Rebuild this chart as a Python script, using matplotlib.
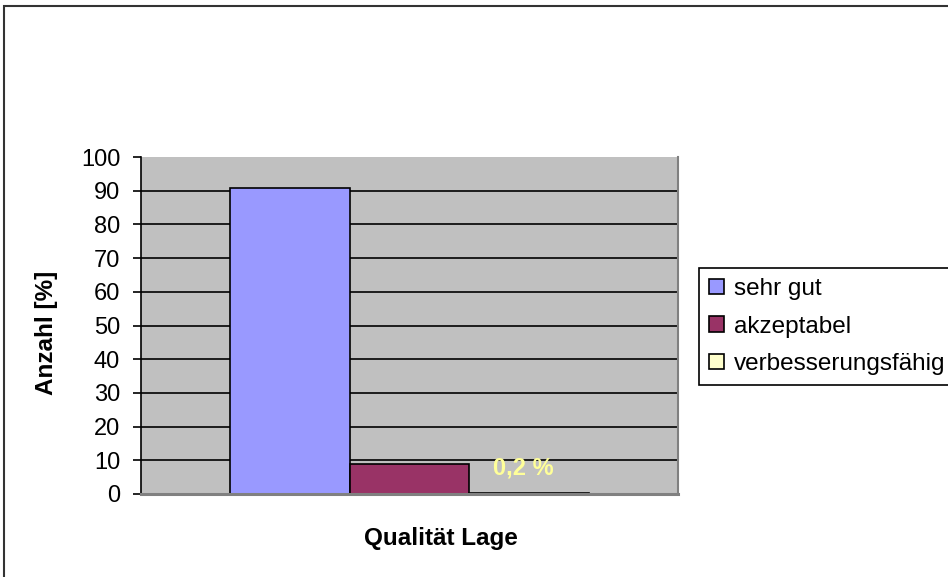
import matplotlib
matplotlib.use("Agg")
import matplotlib.pyplot as plt
from matplotlib.patches import Rectangle

plt.rcParams['font.family'] = ['Liberation Sans', 'DejaVu Sans']

categories = ["sehr gut", "akzeptabel", "verbesserungsfähig"]
values = [90.8, 9.0, 0.2]
colors = ["#9999FF", "#993366", "#FFFFCC"]
value_labels = [None, None, "0,2 %"]
yticks = [0, 10, 20, 30, 40, 50, 60, 70, 80, 90, 100]

fig = plt.figure(figsize=(9.48, 5.77), dpi=100)
ax = fig.add_axes([141/948, 1-494/577, 537/948, 337/577])
ax.set_facecolor("#C0C0C0")

positions = [-1, 0, 1]
for p, v, c, name in zip(positions, values, colors, categories):
    ax.bar(p, v, width=1.0, color=c, edgecolor="black", linewidth=1.2, label=name, zorder=2)

for p, v, lab in zip(positions, values, value_labels):
    if lab:
        ax.annotate(lab, (p, v), xytext=(-4, 18), textcoords="offset points",
                    ha="center", va="center", color="#FFFF99", fontsize=17,
                    fontweight="bold", zorder=4)

ax.set_xlim(-2.247, 2.247)
ax.set_ylim(0, 100)
ax.set_yticks(yticks)
ax.set_yticklabels([str(t) for t in yticks], fontsize=17)
ax.set_xticks([])
for t in yticks[1:-1]:
    ax.axhline(t, color="black", linewidth=1.2, zorder=1)
ax.tick_params(axis="y", direction="out", length=6, width=1.2, pad=9)
ax.spines["top"].set_visible(False)
ax.spines["left"].set_color("black")
ax.spines["left"].set_linewidth(1.2)
ax.spines["right"].set_color("#808080")
ax.spines["right"].set_linewidth(1.5)
ax.spines["bottom"].set_color("#808080")
ax.spines["bottom"].set_linewidth(2.2)
for s in ax.spines.values():
    s.set_zorder(3)

ax.set_ylabel("Anzahl [%]", fontsize=17.5, fontweight="bold", va="center")
ax.yaxis.set_label_coords((47-141)/537, (494-333)/337)
ax.set_xlabel("Qualität Lage", fontsize=17.5, fontweight="bold", va="center")
ax.xaxis.set_label_coords((441-141)/537, (494-538)/337)

leg = fig.legend(loc="upper left", bbox_to_anchor=(699/948, 1-268/577),
                 borderaxespad=0, fancybox=False, edgecolor="black",
                 fontsize=17.5, handlelength=0.6, handleheight=0.6,
                 handletextpad=0.4, labelspacing=0.63, borderpad=0.42, framealpha=1)
leg.get_frame().set_linewidth(1.2)

fig.patches.append(Rectangle((4/948, -0.1), 1.2, 1.1 - 6/577, transform=fig.transFigure,
                             fill=False, edgecolor="#333333", linewidth=1.5))

fig.savefig("out.png", dpi=100)
